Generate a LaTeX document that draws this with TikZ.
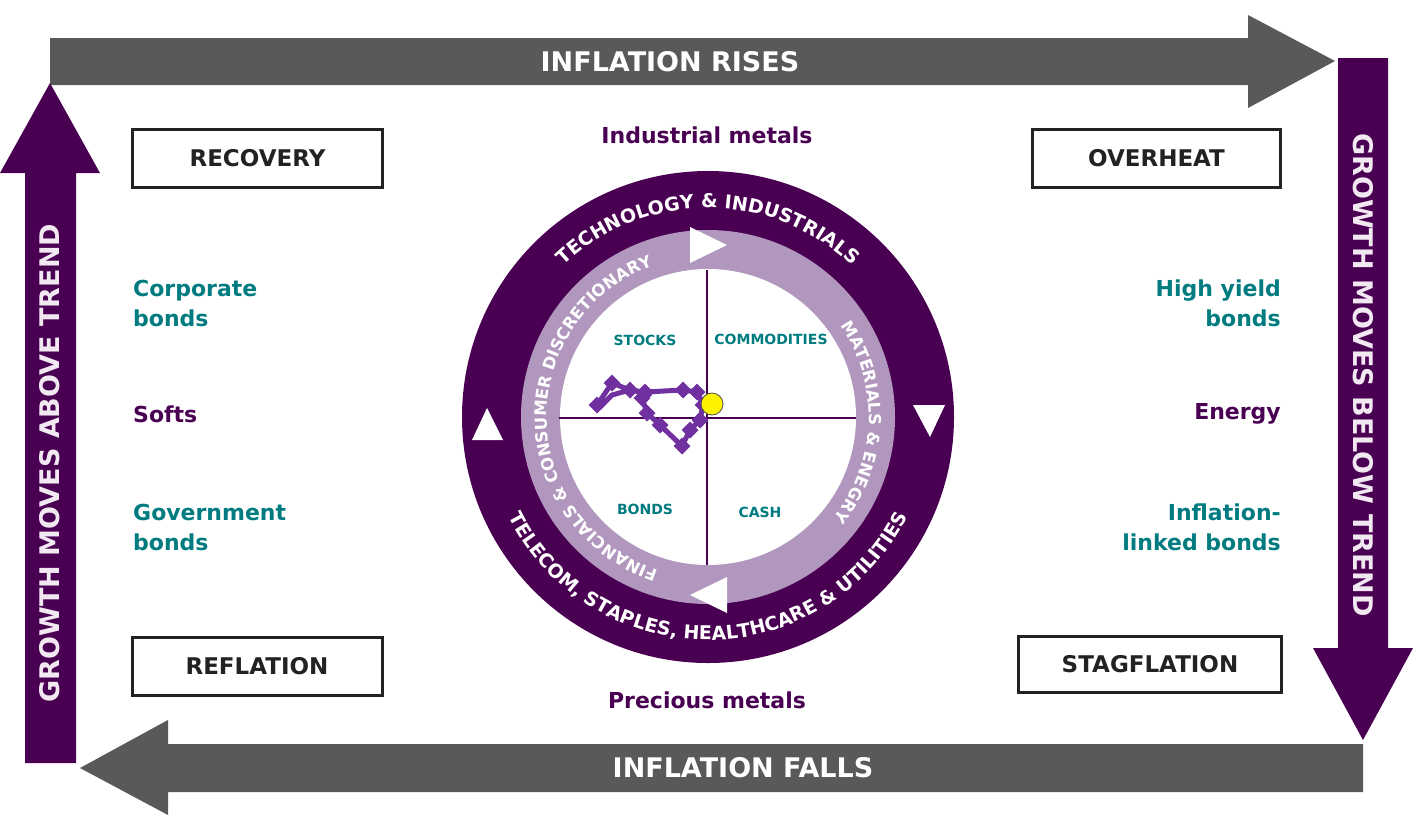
\documentclass[tikz,border=0pt]{standalone}
\usepackage{fontspec}
\setmainfont{DejaVu Sans}
\usetikzlibrary{decorations.text,calc}
\definecolor{dpurple}{HTML}{4A0052}
\definecolor{lpurple}{HTML}{B197BE}
\definecolor{tealc}{HTML}{007C80}
\definecolor{grayc}{HTML}{595959}
\definecolor{trailc}{HTML}{7030A0}
\definecolor{boxtxt}{HTML}{222222}
\definecolor{vtext}{HTML}{F2E8F2}
\tikzset{
  phase/.style={draw=boxtxt,line width=3pt,fill=white,minimum width=#1,minimum height=58pt,inner sep=0pt,font=\bfseries\fontsize{23}{23}\selectfont,text=boxtxt},
  lab/.style={font=\bfseries\fontsize{22}{30}\selectfont,text=tealc,inner sep=0pt},
  metal/.style={font=\bfseries\fontsize{22}{30}\selectfont,text=dpurple,inner sep=0pt},
  quad/.style={font=\bfseries\fontsize{14}{14}\selectfont,text=tealc,inner sep=0pt},
  arrtxt/.style={font=\bfseries\fontsize{27}{27}\selectfont,text=white,inner sep=0pt},
  vtxt/.style={font=\bfseries\fontsize{27}{27}\selectfont,text=vtext,inner sep=0pt},
  mk/.style={fill=trailc,draw=none,minimum size=12pt,inner sep=0pt,rotate=45}
}
\begin{document}
\begin{tikzpicture}[x=1pt,y=1pt]
\useasboundingbox (0,-831) rectangle (1416,0);
% arrows
\fill[grayc] (50,-38) -- (1248,-38) -- (1248,-15) -- (1335,-61) -- (1248,-108) -- (1248,-85) -- (50,-85) -- cycle;
\fill[dpurple] (25,-763) -- (25,-173) -- (0,-173) -- (50,-83) -- (100,-173) -- (76,-173) -- (76,-763) -- cycle;
\fill[dpurple] (1338,-58) -- (1388,-58) -- (1388,-648) -- (1413,-648) -- (1363,-740) -- (1313,-648) -- (1338,-648) -- cycle;
\fill[grayc] (1363,-744) -- (1363,-792) -- (168,-792) -- (168,-815) -- (80,-768) -- (168,-720) -- (168,-744) -- cycle;
\node[arrtxt] (ir) at (670,-62) {INFLATION RISES};
\node[arrtxt] (if) at (743,-768) {INFLATION FALLS};
\node[vtxt,rotate=90] (ga) at (50,-463) {GROWTH MOVES ABOVE TREND};
\node[vtxt,rotate=-90] (gb) at (1363,-375) {GROWTH MOVES BELOW TREND};
% boxes
\node[phase=250pt] (rec) at (257.5,-158) {RECOVERY};
\node[phase=248pt] (ovh) at (1156.5,-158) {OVERHEAT};
\node[phase=250pt] (ref) at (257,-666) {REFLATION};
\node[phase=263pt,minimum height=56pt] (stg) at (1150,-664.5) {STAGFLATION};
% side labels
\node[lab,anchor=west,align=left] (cb) at (133,-303) {Corporate\\bonds};
\node[metal,anchor=west] (so) at (133,-414) {Softs};
\node[lab,anchor=west,align=left] (gv) at (133,-527) {Government\\bonds};
\node[lab,anchor=east,align=right] (hy) at (1281,-303) {High yield\\bonds};
\node[metal,anchor=east] (en) at (1281,-414) {Energy};
\node[lab,anchor=east,align=right] (il) at (1281,-527) {Inflation-\\linked bonds};
\node[metal] (im) at (707,-135) {Industrial metals};
\node[metal] (pm) at (707,-700) {Precious metals};
% wheel
\coordinate (C) at (708,-417);
\fill[dpurple] (C) circle[radius=246];
\fill[lpurple] (C) circle[radius=187];
\fill[white] (C) circle[radius=148];
\draw[dpurple,line width=2.5pt] (559,-418) -- (856,-418);
\draw[dpurple,line width=2.5pt] (707,-270) -- (707,-565);
% ring triangles
\fill[white] (690,-227) -- (727,-245) -- (690,-263) -- cycle;
\fill[white] (727,-577) -- (690,-595) -- (727,-613) -- cycle;
\fill[white] (472,-440) -- (487,-408) -- (503,-440) -- cycle;
\fill[white] (913,-405) -- (930,-437) -- (945,-405) -- cycle;
% ring texts
\path[decorate,decoration={text along path,text align=center,text color=white,
  text={|\bfseries\fontsize{19}{19}\selectfont|TECHNOLOGY {\&} INDUSTRIALS}}]
  ($(C)+(150:209)$) arc[start angle=150,end angle=30,radius=209];
\path[decorate,decoration={text along path,text align=center,text color=white,
  text={|\bfseries\fontsize{19}{19}\selectfont|TELECOM, STAPLES, HEALTHCARE {\&} UTILITIES}}]
  ($(C)+(195:223)$) arc[start angle=195,end angle=345,radius=223];
\path[decorate,decoration={text along path,text align=center,text color=white,
  text={|\bfseries\fontsize{16.5}{16.5}\selectfont|FINANCIALS {\&} CONSUMER DISCRETIONARY}}]
  ($(C)+(265:161)$) arc[start angle=265,end angle=97,radius=161];
\path[decorate,decoration={text along path,text align=center,text color=white,
  text={|\bfseries\fontsize{16.5}{16.5}\selectfont|MATERIALS {\&} ENEGRY}}]
  ($(C)+(45:161)$) arc[start angle=45,end angle=-49,radius=161];
% quadrant labels
\node[quad] (st) at (645,-340) {STOCKS};
\node[quad] (cm) at (771,-339) {COMMODITIES};
\node[quad] (bd) at (645,-509) {BONDS};
\node[quad] (cs) at (760,-512) {CASH};
% trail
\draw[trailc,line width=5pt,line join=round]
  (597,-405) -- (612,-383) -- (630,-390) -- (645,-392) -- (683,-390) -- (697,-392)
  -- (703,-405) -- (700,-420) -- (690,-430) -- (682,-446) -- (660,-425) -- (647,-413)
  -- (642,-398) -- (650,-394) -- (630,-390) -- (612,-395) -- (600,-407);
\foreach \p in {(597,-405),(612,-383),(630,-390),(645,-392),(683,-390),(697,-392),(703,-405),(700,-420),(690,-430),(682,-446),(660,-425),(647,-413),(642,-398)}
  \node[mk] at \p {};
\node[circle,fill=yellow,draw=black!70,line width=0.8pt,minimum size=22pt,inner sep=0pt] (yd) at (712,-404) {};
\end{tikzpicture}
\end{document}
